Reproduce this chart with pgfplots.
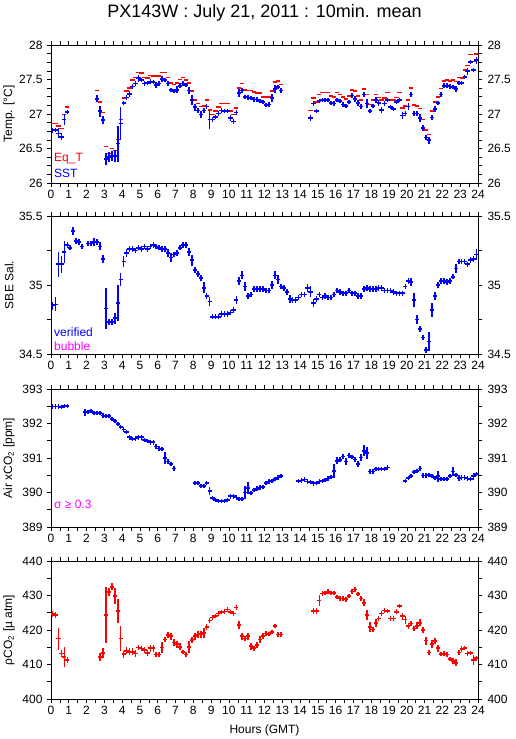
\documentclass[border=0pt]{standalone}
\usepackage{fontspec}
\setmainfont{Liberation Sans}
\usepackage{pgfplots}
\usepackage{pgfplotstable}
\pgfplotsset{compat=1.18}
\definecolor{bblue}{RGB}{0,0,255}
\definecolor{rred}{RGB}{255,0,0}
\definecolor{mmag}{RGB}{255,0,255}

\pgfplotstableread{
t v e
0.083 26.76 0.02
0.25 26.77 0.03
0.417 26.72 0.07
0.583 26.67 0.05
0.75 26.92 0.08
0.917 27.03 0.02
2.583 27.22 0.05
2.75 27.04 0.08
2.917 26.91 0.06
3.083 26.35 0.09
3.25 26.38 0.07
3.417 26.39 0.07
3.583 26.39 0.09
3.75 26.57 0.26
3.917 26.86 0.24
4.083 27.16 0.03
4.25 27.24 0.03
4.417 27.29 0.04
4.583 27.40 0.04
4.75 27.44 0.04
4.917 27.52 0.05
5.083 27.49 0.03
5.25 27.44 0.04
5.417 27.45 0.03
5.583 27.47 0.03
5.75 27.46 0.03
5.917 27.42 0.05
6.083 27.44 0.03
6.25 27.51 0.04
6.417 27.49 0.03
6.583 27.44 0.03
6.75 27.35 0.03
6.917 27.33 0.03
7.083 27.35 0.05
7.25 27.41 0.03
7.417 27.44 0.02
7.583 27.42 0.03
7.75 27.34 0.05
7.917 27.20 0.07
8.083 27.10 0.05
8.25 27.05 0.04
8.417 26.99 0.05
8.583 27.05 0.03
8.75 27.11 0.03
8.917 26.92 0.14
9.083 26.92 0.02
9.25 26.96 0.02
9.417 27.01 0.03
9.583 27.05 0.02
9.75 27.04 0.02
9.917 27.04 0.03
10.083 26.94 0.04
10.25 26.89 0.04
10.417 27.02 0.04
10.583 27.30 0.06
10.75 27.34 0.03
10.917 27.25 0.03
11.083 27.24 0.03
11.25 27.23 0.03
11.417 27.21 0.03
11.583 27.21 0.03
11.75 27.19 0.03
11.917 27.17 0.02
12.083 27.13 0.03
12.25 27.14 0.02
12.417 27.23 0.06
12.583 27.36 0.06
12.75 27.39 0.02
12.917 27.34 0.02
14.583 26.94 0.04
14.75 27.15 0.03
14.917 27.04 0.02
15.083 27.19 0.03
15.25 27.20 0.02
15.417 27.20 0.02
15.583 27.20 0.02
15.75 27.16 0.03
15.917 27.15 0.03
16.083 27.20 0.03
16.25 27.19 0.02
16.417 27.14 0.02
16.583 27.12 0.03
16.75 27.17 0.03
16.917 27.27 0.03
17.083 27.22 0.04
17.25 27.16 0.04
17.417 27.11 0.03
17.583 27.28 0.03
17.75 27.15 0.07
17.917 27.04 0.02
18.083 27.12 0.03
18.25 27.20 0.04
18.417 27.16 0.04
18.583 27.06 0.04
18.75 27.15 0.03
18.917 27.20 0.02
19.083 27.10 0.02
19.25 27.07 0.02
19.417 27.17 0.03
19.583 27.20 0.03
19.75 26.98 0.05
19.917 27.01 0.03
20.083 27.11 0.05
20.25 27.28 0.03
20.417 27.01 0.03
20.583 27.01 0.03
20.75 26.94 0.06
20.917 26.80 0.04
21.083 26.66 0.04
21.25 26.62 0.05
21.417 26.95 0.03
21.583 27.07 0.04
21.75 27.16 0.03
21.917 27.28 0.04
22.083 27.41 0.02
22.25 27.41 0.02
22.417 27.40 0.02
22.583 27.39 0.02
22.75 27.36 0.04
22.917 27.45 0.03
23.083 27.45 0.03
23.25 27.54 0.03
23.417 27.62 0.05
23.583 27.75 0.03
23.75 27.64 0.03
23.917 27.78 0.05
}\sst

\pgfplotstableread{
t v
0.083 26.86
0.25 26.86
0.417 26.83
0.583 26.79
0.75 26.99
0.917 27.10
2.583 27.34
2.75 27.17
2.917 27.02
3.083 26.53
3.25 26.43
3.417 26.50
3.583 26.47
3.75 26.63
3.917 26.92
4.083 27.23
4.25 27.33
4.417 27.38
4.583 27.49
4.75 27.53
4.917 27.60
5.083 27.59
5.25 27.53
5.417 27.52
5.583 27.56
5.75 27.55
5.917 27.55
6.083 27.55
6.25 27.60
6.417 27.60
6.583 27.53
6.75 27.45
6.917 27.43
7.083 27.45
7.25 27.50
7.417 27.53
7.583 27.49
7.75 27.45
7.917 27.33
8.083 27.20
8.25 27.15
8.417 27.11
8.583 27.12
8.75 27.20
8.917 27.06
9.083 26.99
9.25 27.04
9.417 27.10
9.583 27.15
9.75 27.15
9.917 27.15
10.083 27.04
10.25 26.99
10.417 27.09
10.583 27.38
10.75 27.44
10.917 27.35
11.083 27.34
11.25 27.34
11.417 27.32
11.583 27.30
11.75 27.30
11.917 27.25
12.083 27.25
12.25 27.25
12.417 27.33
12.583 27.46
12.75 27.48
12.917 27.43
14.583 27.05
14.75 27.23
14.917 27.17
15.083 27.28
15.25 27.31
15.417 27.31
15.583 27.31
15.75 27.26
15.917 27.25
16.083 27.31
16.25 27.28
16.417 27.25
16.583 27.22
16.75 27.26
16.917 27.35
17.083 27.33
17.25 27.26
17.417 27.20
17.583 27.36
17.75 27.28
17.917 27.14
18.083 27.20
18.25 27.28
18.417 27.24
18.583 27.20
18.75 27.23
18.917 27.31
19.083 27.20
19.25 27.20
19.417 27.24
19.583 27.31
19.75 27.09
19.917 27.12
20.083 27.20
20.25 27.38
20.417 27.13
20.583 27.12
20.75 27.08
20.917 26.92
21.083 26.77
21.25 26.70
21.417 27.04
21.583 27.17
21.75 27.25
21.917 27.37
22.083 27.48
22.25 27.49
22.417 27.48
22.583 27.49
22.75 27.47
22.917 27.53
23.083 27.52
23.25 27.64
23.417 27.70
23.583 27.86
23.75 27.76
23.917 27.87
}\eqt

\pgfplotstableread{
t v e
0.083 34.85 0.03
0.25 34.86 0.05
0.417 35.15 0.09
0.583 35.15 0.06
0.75 35.24 0.08
0.917 35.29 0.02
1.083 35.27 0.02
1.25 35.39 0.03
1.417 35.32 0.02
1.583 35.31 0.02
1.75 35.28 0.02
2.083 35.30 0.02
2.25 35.30 0.02
2.417 35.31 0.03
2.583 35.31 0.02
2.75 35.28 0.03
2.917 35.19 0.03
3.083 34.83 0.15
3.25 34.73 0.02
3.417 34.73 0.02
3.583 34.76 0.04
3.75 34.87 0.13
3.917 35.04 0.05
4.083 35.17 0.04
4.25 35.23 0.03
4.417 35.26 0.02
4.583 35.26 0.02
4.75 35.25 0.02
4.917 35.27 0.02
5.083 35.26 0.02
5.25 35.28 0.02
5.417 35.26 0.02
5.583 35.28 0.02
5.75 35.29 0.02
5.917 35.28 0.02
6.083 35.27 0.02
6.25 35.26 0.02
6.417 35.26 0.02
6.583 35.23 0.03
6.75 35.20 0.03
6.917 35.22 0.02
7.083 35.23 0.02
7.25 35.27 0.02
7.417 35.29 0.02
7.583 35.29 0.02
7.75 35.24 0.03
7.917 35.18 0.04
8.083 35.11 0.02
8.25 35.08 0.02
8.417 35.05 0.02
8.583 34.98 0.04
8.75 34.92 0.02
8.917 34.88 0.03
9.083 34.77 0.02
9.25 34.77 0.02
9.417 34.77 0.02
9.583 34.79 0.02
9.75 34.79 0.02
9.917 34.79 0.02
10.083 34.80 0.02
10.25 34.82 0.02
10.417 34.89 0.03
10.583 35.03 0.03
10.75 35.07 0.03
10.917 34.99 0.03
11.083 34.92 0.02
11.25 34.93 0.02
11.417 34.97 0.02
11.583 34.97 0.02
11.75 34.97 0.02
11.917 34.97 0.02
12.083 34.96 0.02
12.25 34.96 0.02
12.417 35.00 0.03
12.583 35.07 0.03
12.75 35.04 0.03
12.917 34.99 0.02
13.083 34.98 0.02
13.25 34.95 0.02
13.417 34.90 0.03
13.583 34.89 0.02
13.75 34.89 0.02
13.917 34.91 0.02
14.083 34.93 0.02
14.25 34.93 0.02
14.417 34.98 0.03
14.583 34.95 0.04
14.75 34.87 0.03
14.917 34.90 0.02
15.083 34.93 0.02
15.25 34.91 0.02
15.417 34.92 0.02
15.583 34.91 0.02
15.75 34.91 0.02
15.917 34.93 0.02
16.083 34.96 0.02
16.25 34.95 0.02
16.417 34.94 0.02
16.583 34.94 0.02
16.75 34.96 0.02
16.917 34.94 0.02
17.083 34.94 0.02
17.25 34.92 0.02
17.417 34.92 0.02
17.583 34.97 0.02
17.75 34.98 0.02
17.917 34.97 0.02
18.083 34.97 0.02
18.25 34.97 0.02
18.417 34.98 0.02
18.583 34.98 0.02
18.75 34.96 0.02
18.917 34.96 0.02
19.083 34.96 0.02
19.25 34.95 0.02
19.417 34.94 0.02
19.583 34.94 0.02
19.75 34.94 0.02
19.917 34.99 0.02
20.083 35.03 0.02
20.25 35.02 0.03
20.417 34.89 0.05
20.583 34.75 0.03
20.75 34.68 0.02
20.917 34.62 0.02
21.083 34.53 0.02
21.25 34.59 0.07
21.417 34.82 0.05
21.583 34.92 0.03
21.75 35.00 0.02
21.917 35.03 0.02
22.083 35.03 0.02
22.25 35.02 0.02
22.417 35.03 0.02
22.583 35.06 0.02
22.75 35.12 0.03
22.917 35.17 0.02
23.083 35.17 0.02
23.25 35.17 0.02
23.417 35.15 0.02
23.583 35.18 0.02
23.75 35.19 0.02
23.917 35.22 0.04
}\sal

\pgfplotstableread{
t v e
0.083 392.49 0.03
0.25 392.49 0.03
0.417 392.49 0.03
0.583 392.47 0.03
0.75 392.50 0.03
0.917 392.50 0.03
1.917 392.33 0.1
2.083 392.34 0.05
2.25 392.37 0.04
2.417 392.30 0.05
2.583 392.30 0.04
2.75 392.30 0.04
2.917 392.23 0.06
3.083 392.22 0.05
3.25 392.22 0.05
3.417 392.13 0.04
3.583 392.07 0.04
3.75 391.99 0.05
3.917 391.90 0.05
4.083 391.83 0.05
4.25 391.75 0.04
4.417 391.60 0.05
4.583 391.55 0.06
4.75 391.57 0.05
4.917 391.60 0.04
5.083 391.60 0.04
5.25 391.52 0.04
5.417 391.50 0.04
5.583 391.45 0.05
5.75 391.46 0.07
5.917 391.33 0.05
6.083 391.28 0.05
6.25 391.26 0.05
6.417 391.00 0.18
6.583 390.90 0.06
6.75 390.82 0.05
6.917 390.69 0.04
8.083 390.27 0.04
8.25 390.28 0.05
8.417 390.18 0.05
8.583 390.18 0.05
8.75 390.27 0.04
8.917 390.05 0.11
9.083 389.84 0.04
9.25 389.79 0.04
9.417 389.76 0.03
9.583 389.76 0.03
9.75 389.76 0.03
9.917 389.79 0.03
10.083 389.89 0.06
10.25 389.89 0.04
10.417 389.86 0.04
10.583 389.82 0.04
10.75 389.81 0.04
10.917 390.00 0.2
11.083 390.13 0.17
11.25 389.98 0.05
11.417 390.08 0.05
11.583 390.11 0.04
11.75 390.15 0.04
11.917 390.16 0.04
12.083 390.27 0.05
12.25 390.32 0.04
12.417 390.34 0.04
12.583 390.39 0.04
12.75 390.44 0.04
12.917 390.48 0.03
13.917 390.34 0.04
14.083 390.35 0.04
14.25 390.38 0.04
14.417 390.32 0.04
14.583 390.30 0.04
14.75 390.26 0.06
14.917 390.27 0.04
15.083 390.32 0.04
15.25 390.34 0.04
15.417 390.37 0.04
15.583 390.40 0.04
15.75 390.45 0.04
15.917 390.63 0.2
16.083 390.92 0.1
16.25 390.95 0.08
16.417 391.04 0.08
16.583 390.90 0.1
16.75 391.07 0.06
16.917 391.03 0.05
17.083 390.96 0.06
17.25 390.82 0.08
17.417 391.01 0.1
17.583 391.21 0.16
17.75 391.14 0.18
17.917 390.61 0.08
18.083 390.61 0.06
18.25 390.68 0.04
18.417 390.68 0.03
18.583 390.68 0.03
18.75 390.68 0.03
18.917 390.73 0.05
19.917 390.34 0.06
20.083 390.42 0.06
20.25 390.48 0.06
20.417 390.59 0.04
20.583 390.63 0.06
20.75 390.69 0.04
20.917 390.49 0.04
21.083 390.49 0.04
21.25 390.51 0.04
21.417 390.47 0.04
21.583 390.42 0.04
21.75 390.47 0.16
21.917 390.39 0.04
22.083 390.39 0.04
22.25 390.39 0.04
22.417 390.48 0.04
22.583 390.61 0.12
22.75 390.51 0.06
22.917 390.42 0.08
23.083 390.44 0.04
23.25 390.44 0.04
23.417 390.40 0.04
23.583 390.39 0.05
23.75 390.47 0.1
23.917 390.54 0.04
}\xco

\pgfplotstableread{
t v e
0.083 424.6 0.8
0.25 424.3 0.9
0.417 417.5 3.2
0.583 413.2 1.0
0.75 412.2 2.9
0.917 411.3 0.8
2.75 412.2 1.2
2.917 413.4 1.5
3.083 424.3 8.1
3.25 431.0 1.2
3.417 432.5 1.0
3.583 429.8 2.3
3.75 425.5 3.6
3.917 417.5 3.6
4.083 413.0 1.0
4.25 414.0 1.0
4.417 413.7 1.0
4.583 413.7 1.0
4.75 413.2 1.0
4.917 414.9 0.8
5.083 414.6 0.8
5.25 414.2 1.0
5.417 413.4 0.8
5.583 414.7 1.0
5.75 414.7 1.0
5.917 412.9 0.8
6.083 412.9 0.8
6.25 414.9 1.7
6.417 417.3 0.8
6.583 418.5 0.8
6.75 418.2 1.0
6.917 416.4 1.0
7.083 415.9 1.0
7.25 415.1 1.0
7.417 413.7 0.6
7.583 412.9 0.6
7.75 415.1 1.7
7.917 417.1 1.0
8.083 418.2 1.0
8.25 418.7 1.0
8.417 418.8 1.0
8.583 419.2 1.5
8.75 420.9 0.8
8.917 422.7 0.6
9.083 423.6 0.8
9.25 424.0 0.6
9.417 424.8 0.6
9.583 425.3 0.5
9.75 425.4 0.5
9.917 425.9 0.6
10.083 425.3 0.6
10.25 424.8 0.6
10.417 426.5 0.8
10.583 421.4 1.2
10.75 418.2 1.0
10.917 417.5 0.8
11.083 418.2 1.0
11.25 415.3 1.0
11.417 414.7 0.8
11.583 415.6 0.8
11.75 417.3 1.0
11.917 418.2 0.8
12.083 419.0 0.8
12.25 418.8 0.6
12.417 419.5 0.6
12.583 421.1 0.6
12.75 418.7 0.8
12.917 418.7 0.8
14.75 425.5 0.8
14.917 425.5 0.8
15.083 428.6 1.5
15.25 430.6 0.8
15.417 430.8 0.6
15.583 431.2 0.6
15.75 430.7 0.6
15.917 430.7 0.6
16.083 429.6 0.6
16.25 429.1 0.6
16.417 429.1 0.5
16.583 428.9 0.6
16.75 429.8 0.6
16.917 431.2 0.8
17.083 431.7 0.8
17.25 430.4 0.6
17.417 429.1 0.8
17.583 427.9 1.0
17.75 424.3 1.5
17.917 420.9 1.5
18.083 420.1 0.8
18.25 422.1 1.2
18.417 423.3 0.8
18.583 424.8 0.8
18.75 425.7 0.6
18.917 425.5 0.5
19.083 423.3 0.6
19.25 423.3 0.6
19.417 425.3 0.8
19.583 427.0 0.5
19.75 424.0 1.0
19.917 423.0 1.2
20.083 421.1 0.8
20.25 421.9 0.8
20.417 420.4 0.6
20.583 421.2 1.0
20.75 422.1 1.0
20.917 420.0 1.0
21.083 416.9 1.2
21.25 413.5 0.8
21.417 415.9 1.2
21.583 416.8 0.8
21.75 414.7 1.0
21.917 413.0 0.6
22.083 413.2 0.6
22.25 412.9 0.6
22.417 411.6 0.6
22.583 411.0 0.8
22.75 410.5 1.0
22.917 413.5 0.8
23.083 414.5 0.8
23.25 414.7 0.6
23.417 413.2 0.5
23.583 413.4 0.5
23.75 411.3 1.5
23.917 411.8 0.8
}\pco

\pgfplotsset{
  base/.style={
    scale only axis, width=427pt, height=138pt,
    anchor=south west,
    xmin=0, xmax=24, xtick={0,1,...,24}, minor x tick num=1,
    tick align=outside, major tick length=4pt, minor tick length=4pt,
    tick style={black, line width=0.6pt},
    axis line style={black, line width=0.6pt},
    tick label style={font=\fontsize{12}{13}\selectfont},
    yticklabel style={xshift=-1pt},
    /pgf/number format/assume math mode=true,
    /pgf/number format/fixed,
    every axis y label/.style={at={(axis description cs:0,0.5)}, xshift=-42pt, rotate=90, anchor=center, font=\fontsize{12}{13}\selectfont},
  },
  rlab/.style={base, yticklabel pos=right, yticklabel style={xshift=3pt}, xticklabels={}, axis line style={draw=none}, tick style={draw=none}},
  vq/.style 2 args={draw=#1, color=#1, line width=1.6pt, mark=none,
    quiver={u=0, v={2*max(\thisrow{e},#2)}}},
  hq/.style={draw=#1, color=#1, line width=1.6pt, mark=none,
    quiver={u=0.24, v=0}},
}

\begin{document}
\begin{tikzpicture}
\path[use as bounding box] (0pt,0pt) rectangle (515pt,739pt);

% Panel 1
\begin{axis}[base, at={(51pt,556pt)}, ymin=26, ymax=28, ytick={26,26.5,...,28}, minor y tick num=3, ylabel={Temp. [°C]}]
\addplot[hq=rred] table[x expr=\thisrow{t}-0.12, y=v] {\eqt};
\addplot[vq={bblue}{0.032}] table[x=t, y expr={\thisrow{v}-max(\thisrow{e},0.032)}] {\sst};
\addplot[hq=bblue] table[x expr=\thisrow{t}-0.12, y=v] {\sst};
\end{axis}
\begin{axis}[rlab, at={(51pt,556pt)}, ymin=26, ymax=28, ytick={26,26.5,...,28}, minor y tick num=3]
\addplot[draw=none] coordinates {(0,26)};
\end{axis}

% Panel 2
\begin{axis}[base, at={(51pt,385pt)}, ymin=34.5, ymax=35.5, ytick={34.5,35,35.5}, minor y tick num=1, ylabel={SBE Sal.}]
\addplot[vq={bblue}{0.016}] table[x=t, y expr={\thisrow{v}-max(\thisrow{e},0.016)}] {\sal};
\addplot[hq=bblue] table[x expr=\thisrow{t}-0.12, y=v] {\sal};
\end{axis}
\begin{axis}[rlab, at={(51pt,385pt)}, ymin=34.5, ymax=35.5, ytick={34.5,35,35.5}, minor y tick num=1]
\addplot[draw=none] coordinates {(0,35)};
\end{axis}

% Panel 3
\begin{axis}[base, at={(51pt,212pt)}, ymin=389, ymax=393, ytick={389,...,393}, minor y tick num=1, ylabel={Air xCO\textsubscript{2} [ppm]}]
\addplot[vq={bblue}{0.064}] table[x=t, y expr={\thisrow{v}-max(\thisrow{e},0.064)}] {\xco};
\addplot[hq=bblue] table[x expr=\thisrow{t}-0.12, y=v] {\xco};
\end{axis}
\begin{axis}[rlab, at={(51pt,212pt)}, ymin=389, ymax=393, ytick={389,...,393}, minor y tick num=1]
\addplot[draw=none] coordinates {(0,390)};
\end{axis}

% Panel 4
\begin{axis}[base, at={(51pt,40pt)}, ymin=400, ymax=440, ytick={400,410,...,440}, minor y tick num=1, ylabel={ρCO\textsubscript{2} [µ atm]}]
\addplot[vq={rred}{0.64}] table[x=t, y expr={\thisrow{v}-max(\thisrow{e},0.64)}] {\pco};
\addplot[hq=rred] table[x expr=\thisrow{t}-0.12, y=v] {\pco};
\end{axis}
\begin{axis}[rlab, at={(51pt,40pt)}, ymin=400, ymax=440, ytick={400,410,...,440}, minor y tick num=1]
\addplot[draw=none] coordinates {(0,410)};
\end{axis}

\node[font=\fontsize{18}{20}\selectfont] at (264.5pt,726pt) {PX143W : July 21, 2011 : 10min. mean};
\node[font=\fontsize{12}{13}\selectfont] at (264.5pt,9pt) {Hours (GMT)};
\node[anchor=west, text=rred, font=\fontsize{12}{13}\selectfont, inner sep=0pt] at (54pt,580pt) {Eq\_T};
\node[anchor=west, text=bblue, font=\fontsize{12}{13}\selectfont, inner sep=0pt] at (54pt,566pt) {SST};
\node[anchor=west, text=bblue, font=\fontsize{12}{13}\selectfont, inner sep=0pt] at (54pt,407pt) {verified};
\node[anchor=west, text=mmag, font=\fontsize{12}{13}\selectfont, inner sep=0pt] at (54pt,393pt) {bubble};
\node[anchor=west, text=mmag, font=\fontsize{12}{13}\selectfont, inner sep=0pt] at (54pt,235pt) {σ ≥ 0.3};
\end{tikzpicture}
\end{document}
